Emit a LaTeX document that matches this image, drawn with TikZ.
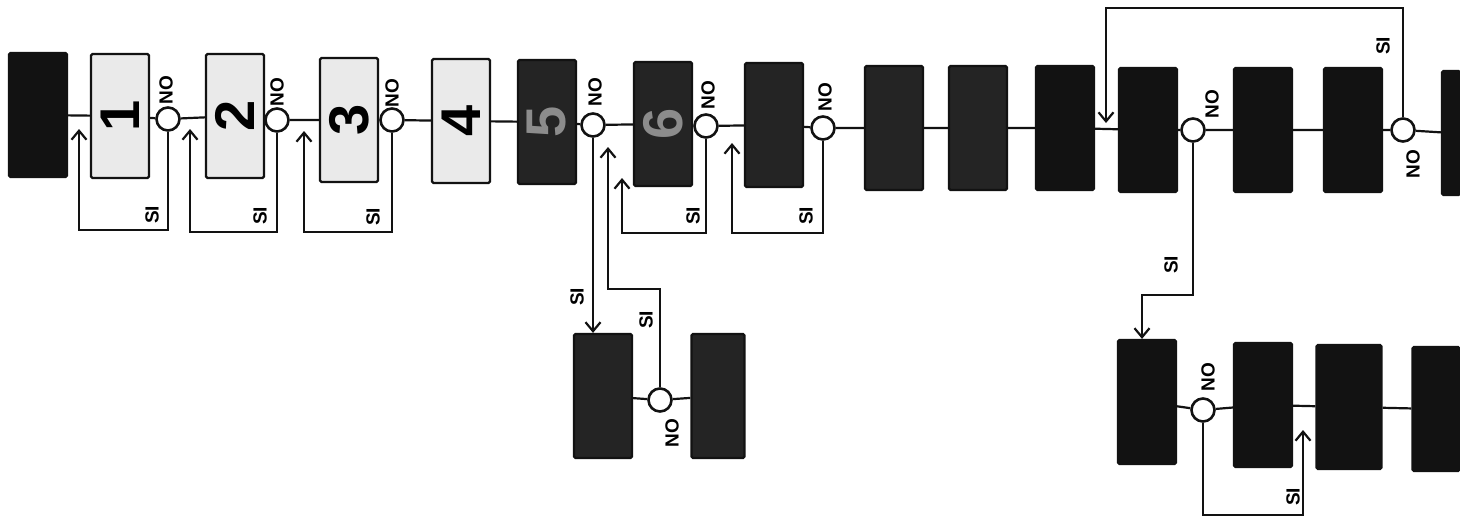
\documentclass[tikz,border=0pt]{standalone}
\usepackage{fontspec}
\setmainfont{Liberation Sans}
\usetikzlibrary{
  arrows.meta,
  positioning,
  calc
}
\definecolor{InkBlack}{RGB}{18,18,18}
\definecolor{NoisyGray}{RGB}{36,36,36}
\definecolor{StippleGray}{RGB}{234,234,234}
\definecolor{DigitGray}{RGB}{140,140,140}
\tikzset{
  lightbox/.style={draw=InkBlack,line width=2.2pt,fill=StippleGray,rounded corners=1.5pt,minimum width=58pt,minimum height=124pt,inner sep=0pt,font=\fontsize{56}{56}\selectfont\bfseries},
  darkbox/.style={lightbox,fill=NoisyGray},
  blackbox/.style={lightbox,fill=InkBlack},
  testnode/.style={circle,draw=InkBlack,line width=2.6pt,fill=white,minimum size=23pt,inner sep=0pt},
  flowline/.style={line width=2.2pt,draw=InkBlack},
  backarrow/.style={-{Straight Barb[length=9pt,width=15pt,line width=2.2pt]},line width=2pt,draw=InkBlack},
  answer/.style={font=\fontsize{19}{19}\selectfont\bfseries,rotate=90,inner sep=0pt}
}

\begin{document}
\begin{tikzpicture}[x=1pt,y=-1pt]
\useasboundingbox (0,0) rectangle (1460,522);
% top row
\node[blackbox] (b0) at (38,115) {};
\node[lightbox] (b1) at (120,116) {\rotatebox{90}{1}};
\node[testnode] (c1) at (168,119) {};
\node[lightbox] (b2) at (235,116) {\rotatebox{90}{2}};
\node[testnode] (c2) at (277,120) {};
\node[lightbox] (b3) at (349,120) {\rotatebox{90}{3}};
\node[testnode] (c3) at (392,120) {};
\node[lightbox] (b4) at (461,121) {\rotatebox{90}{4}};
\node[darkbox, text=DigitGray] (b5) at (547,122) {\rotatebox{90}{5}};
\node[testnode] (c5) at (593,125) {};
\node[darkbox, text=DigitGray] (b6) at (663,124) {\rotatebox{90}{6}};
\node[testnode] (c6) at (706,126) {};
\node[darkbox] (b7) at (774,125) {};
\node[testnode] (c7) at (823,128) {};
\node[darkbox] (b8) at (894,128) {};
\node[darkbox] (b9) at (978,128) {};
\node[blackbox] (b10) at (1065,128) {};
\node[blackbox] (b11) at (1148,130) {};
\node[testnode] (c11) at (1193,130) {};
\node[blackbox] (b12) at (1263,130) {};
\node[blackbox] (b13) at (1353,130) {};
\node[testnode] (c13) at (1403,130) {};
\node[blackbox, minimum width=18pt] (b14) at (1451,133) {};
\draw[flowline] (b0) -- (b1) -- (c1) -- (b2) -- (c2) -- (b3) -- (c3) -- (b4) -- (b5) -- (c5) -- (b6) -- (c6) -- (b7) -- (c7) -- (b8) -- (b9) -- (b10) -- (b11) -- (c11) -- (b12) -- (b13) -- (c13) -- (b14);
% bottom middle
\node[darkbox] (b15) at (603,396) {};
\node[testnode] (c15) at (660,400) {};
\node[darkbox, minimum width=53pt] (b16) at (718,396) {};
\draw[flowline] (b15) -- (c15) -- (b16);
% bottom right
\node[blackbox] (b17) at (1147,402) {};
\node[testnode] (c17) at (1203,410) {};
\node[blackbox] (b18) at (1263,405) {};
\node[blackbox, minimum width=65pt] (b19) at (1349,407) {};
\node[blackbox, minimum width=47pt] (b20) at (1436,409) {};
\draw[flowline] (b17) -- (c17) -- (b18) -- (b19) -- (b20);
% loops back
\coordinate (k1) at (79,230);   \coordinate (t1) at (79,129);
\coordinate (k2) at (190,232);  \coordinate (t2) at (190,129);
\coordinate (k3) at (304,232);  \coordinate (t3) at (304,131);
\coordinate (k6) at (622,233);  \coordinate (t6) at (622,178);
\coordinate (k7) at (732,233);  \coordinate (t7) at (732,143);
\coordinate (k15) at (608,289); \coordinate (t15) at (608,147);
\coordinate (k13) at (1106,8);  \coordinate (t13) at (1106,123);
\coordinate (k11) at (1142,295);
\coordinate (k17) at (1303,515); \coordinate (t17) at (1303,430);
\draw[backarrow] (c1) |- (k1) -- (t1);
\draw[backarrow] (c2) |- (k2) -- (t2);
\draw[backarrow] (c3) |- (k3) -- (t3);
\draw[backarrow] (c6) |- (k6) -- (t6);
\draw[backarrow] (c7) |- (k7) -- (t7);
\draw[backarrow] (c5) -- (c5 |- b15.north);
\draw[backarrow] (c15) |- (k15) -- (t15);
\draw[backarrow] (c13) |- (k13) -- (t13);
\draw[backarrow] (c11) |- (k11) -- (k11 |- b17.north);
\draw[backarrow] (c17) |- (k17) -- (t17);
% answers
\node[answer] (n1) at (166,90) {NO};
\node[answer] (n2) at (277,92) {NO};
\node[answer] (n3) at (392,93) {NO};
\node[answer] (n5) at (595,92) {NO};
\node[answer] (n6) at (708,95) {NO};
\node[answer] (n7) at (825,97) {NO};
\node[answer] (n11) at (1212,104) {NO};
\node[answer] (n13) at (1413,164) {NO};
\node[answer] (n15) at (672,433) {NO};
\node[answer] (n17) at (1208,377) {NO};
\node[answer] (s1) at (152,215) {SI};
\node[answer] (s2) at (260,216) {SI};
\node[answer] (s3) at (373,217) {SI};
\node[answer] (s6) at (693,216) {SI};
\node[answer] (s7) at (806,216) {SI};
\node[answer] (s5) at (577,297) {SI};
\node[answer] (s15) at (646,320) {SI};
\node[answer] (s11) at (1171,265) {SI};
\node[answer] (s13) at (1383,46) {SI};
\node[answer] (s17) at (1293,497) {SI};
\end{tikzpicture}
\end{document}
